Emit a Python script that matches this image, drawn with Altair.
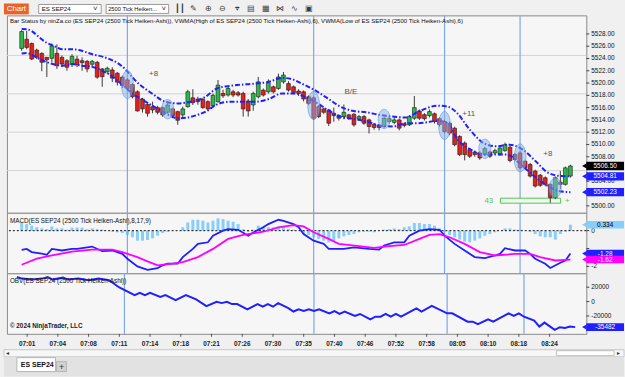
import altair as alt
import pandas as pd

# ------------------------------------------------------------------ data
TIME_BARS = [2, 8, 14, 20, 26, 32, 38, 44, 50, 56, 62, 68, 74, 80, 86, 92, 98, 104]
TIME_LABELS = ["07:01", "07:04", "07:08", "07:11", "07:14", "07:18", "07:21", "07:26", "07:30",
               "07:35", "07:40", "07:46", "07:52", "07:58", "08:05", "08:10", "08:18", "08:24"]
PRICE_TICKS = [5500, 5502, 5504, 5506, 5508, 5510, 5512, 5514, 5516, 5518, 5520, 5522, 5524, 5526, 5528]
# labels hidden behind the value boxes on the right are not drawn
PRICE_LABELS = [5500, 5504, 5508, 5510, 5512, 5514, 5516, 5518, 5520, 5522, 5524, 5526, 5528]
PRICE_GRID = [5505.75, 5512.0, 5518.25, 5524.5]
MACD_TICKS = [-2, -1, 0]
OBV_TICKS = [-40000, -20000, 0, 20000]

OPEN = [5525.64, 5527.14, 5526.45, 5525.37, 5524.83, 5524.19, 5524.03, 5524.83, 5524.19, 5523.64,
        5523.00, 5523.90, 5523.64, 5523.54, 5523.06, 5523.38, 5522.30, 5521.86, 5522.14, 5521.60,
        5520.96, 5520.52, 5519.76, 5518.58, 5517.40, 5516.53, 5516.16, 5516.00, 5516.00, 5515.24,
        5515.79, 5515.35, 5514.82, 5516.16, 5517.60, 5517.40, 5517.34, 5516.97, 5516.30, 5516.97,
        5518.31, 5518.05, 5518.58, 5518.42, 5518.31, 5517.08, 5516.43, 5517.77, 5518.85, 5518.58,
        5519.39, 5519.12, 5520.20, 5519.92, 5519.39, 5518.69, 5518.58, 5517.77, 5517.60, 5516.16,
        5515.79, 5515.62, 5515.08, 5514.70, 5514.54, 5514.82, 5514.92, 5514.17, 5514.54, 5514.00,
        5513.30, 5513.10, 5512.93, 5513.74, 5513.60, 5514.00, 5513.36, 5513.20, 5514.27, 5515.46,
        5514.85, 5514.70, 5515.00, 5514.20, 5513.74, 5513.46, 5512.65, 5511.31, 5510.23, 5509.17,
        5508.78, 5508.62, 5508.35, 5508.78, 5508.62, 5508.45, 5509.00, 5509.54, 5508.35, 5508.62,
        5507.27, 5506.74, 5505.66, 5505.00, 5504.58, 5503.50, 5501.34, 5503.88, 5503.50, 5504.85]
HIGH = [5528.60, 5528.50, 5526.60, 5525.60, 5525.00, 5524.24, 5526.45, 5526.30, 5524.50, 5523.90,
        5524.70, 5524.45, 5524.19, 5523.75, 5523.75, 5523.60, 5522.46, 5522.67, 5522.57, 5521.81,
        5521.20, 5520.80, 5520.00, 5518.80, 5517.60, 5516.70, 5516.97, 5516.30, 5516.20, 5516.70,
        5516.00, 5515.50, 5516.16, 5518.90, 5519.00, 5517.77, 5517.60, 5517.20, 5518.30, 5520.50,
        5518.90, 5519.50, 5518.90, 5518.70, 5518.60, 5517.40, 5518.60, 5521.00, 5519.10, 5520.60,
        5519.60, 5521.54, 5521.80, 5520.30, 5519.60, 5519.00, 5518.80, 5518.00, 5517.80, 5516.40,
        5516.00, 5515.80, 5516.00, 5514.90, 5516.50, 5515.00, 5515.10, 5514.80, 5514.80, 5514.20,
        5513.50, 5513.30, 5514.50, 5514.50, 5514.40, 5514.20, 5513.60, 5514.80, 5517.90, 5515.70,
        5515.10, 5515.70, 5515.20, 5514.40, 5514.00, 5513.70, 5512.90, 5511.50, 5510.50, 5509.40,
        5509.00, 5508.90, 5509.60, 5509.00, 5509.30, 5509.70, 5510.30, 5509.80, 5508.60, 5508.90,
        5507.50, 5507.00, 5505.90, 5505.20, 5504.80, 5503.70, 5504.80, 5505.66, 5506.40, 5506.70]
LOW = [5525.25, 5525.50, 5523.75, 5523.90, 5521.93, 5521.00, 5523.38, 5522.30, 5522.60, 5522.00,
       5522.60, 5522.60, 5522.00, 5521.76, 5522.57, 5520.70, 5519.39, 5521.50, 5520.15, 5519.60,
       5519.20, 5518.90, 5517.50, 5515.35, 5515.20, 5514.54, 5515.08, 5514.90, 5514.50, 5515.00,
       5514.30, 5513.20, 5514.27, 5516.00, 5516.43, 5516.48, 5515.80, 5515.50, 5516.00, 5516.80,
       5517.60, 5517.80, 5517.70, 5517.80, 5514.54, 5514.54, 5515.50, 5517.50, 5517.80, 5518.30,
       5518.30, 5518.90, 5519.90, 5518.60, 5518.20, 5517.90, 5517.00, 5516.40, 5514.00, 5514.30,
       5515.00, 5513.00, 5513.70, 5513.90, 5514.10, 5514.00, 5512.90, 5513.90, 5513.20, 5511.80,
       5512.40, 5512.30, 5512.70, 5513.40, 5513.30, 5512.30, 5512.80, 5513.00, 5514.00, 5514.00,
       5513.90, 5514.40, 5513.40, 5512.90, 5511.80, 5511.50, 5509.70, 5508.10, 5507.40, 5507.80,
       5508.00, 5507.50, 5508.10, 5507.80, 5508.40, 5508.20, 5508.80, 5507.10, 5507.30, 5505.90,
       5505.90, 5504.60, 5503.00, 5503.10, 5503.20, 5500.50, 5501.10, 5502.77, 5503.30, 5504.60]
CLOSE = [5528.39, 5525.80, 5523.91, 5524.19, 5523.38, 5523.80, 5526.06, 5522.83, 5523.10, 5522.57,
         5524.35, 5522.99, 5523.32, 5522.30, 5523.54, 5520.96, 5521.05, 5522.41, 5520.80, 5520.15,
         5519.60, 5519.12, 5517.77, 5515.46, 5515.79, 5515.08, 5515.62, 5515.24, 5514.82, 5516.43,
         5514.70, 5513.94, 5515.79, 5518.58, 5516.80, 5516.97, 5516.00, 5515.79, 5518.00, 5519.66,
         5517.93, 5519.12, 5518.05, 5518.05, 5515.79, 5515.46, 5518.31, 5520.20, 5518.05, 5520.04,
         5518.58, 5521.00, 5521.30, 5518.85, 5518.47, 5518.31, 5517.40, 5516.69, 5514.27, 5514.54,
         5515.24, 5513.46, 5514.70, 5514.27, 5515.24, 5514.27, 5513.20, 5514.54, 5513.46, 5512.93,
         5512.77, 5512.77, 5514.27, 5514.22, 5514.00, 5512.65, 5513.10, 5514.54, 5516.00, 5514.27,
         5514.20, 5515.35, 5513.74, 5513.25, 5512.12, 5511.85, 5509.97, 5508.35, 5508.35, 5508.08,
         5508.35, 5507.81, 5509.33, 5508.08, 5509.00, 5509.42, 5509.97, 5507.39, 5507.55, 5506.20,
         5506.20, 5504.85, 5503.23, 5503.34, 5503.50, 5501.34, 5504.58, 5503.50, 5506.20, 5506.50]

UPPER_BAR = [0, 1, 4.9, 6.8, 8.1, 10.1, 11.4, 13.9, 16.5, 19.8, 23.2, 25.9, 28.5, 31.0, 33.6, 36.2,
             38.8, 41.4, 44.0, 46.5, 49.1, 51.7, 53.7, 55.6, 58.2, 60.8, 63.3, 65.9, 68.5, 71.1,
             73.7, 76.3, 78.8, 82.7, 84.6, 86.6, 88.5, 90.4, 91.7, 94.3, 96.9, 99.5, 102.1, 104.6,
             107.2, 109]
UPPER_VAL = [5528.80, 5528.76, 5526.60, 5525.90, 5525.50, 5525.50, 5525.37, 5524.72, 5524.19, 5522.83,
             5519.92, 5518.30, 5516.97, 5516.69, 5516.97, 5517.61, 5519.12, 5519.55, 5519.76, 5519.92,
             5520.20, 5520.84, 5520.63, 5519.92, 5518.85, 5517.50, 5516.16, 5515.46, 5515.24, 5514.82,
             5514.54, 5514.38, 5515.35, 5516.32, 5516.16, 5515.03, 5512.93, 5511.15, 5510.23, 5509.70,
             5509.97, 5509.17, 5507.27, 5505.38, 5504.85, 5504.81]
LOWER_BAR = [0, 1, 2.3, 4.3, 6.2, 8.1, 10.1, 12.0, 13.9, 15.9, 17.8, 19.8, 22.0, 24.6, 27.1, 29.1,
             31.0, 32.9, 34.9, 36.8, 38.8, 41.4, 44.0, 46.5, 49.1, 51.7, 54.3, 56.2, 58.8, 60.8,
             63.3, 65.9, 68.5, 71.1, 73.7, 76.3, 78.8, 82.7, 84.6, 86.6, 89.2, 91.7, 94.3, 96.3,
             98.8, 101.4, 104.0, 106.6, 108.2, 109]
LOWER_VAL = [5524.83, 5524.88, 5524.45, 5523.64, 5523.10, 5522.83, 5523.10, 5522.83, 5522.67, 5522.02,
             5521.21, 5519.87, 5518.30, 5516.97, 5515.79, 5514.82, 5514.27, 5514.38, 5514.82, 5515.46,
             5516.53, 5516.97, 5516.97, 5516.97, 5517.40, 5518.31, 5518.31, 5517.77, 5516.69, 5515.62,
             5514.54, 5514.17, 5513.74, 5513.09, 5512.93, 5513.46, 5513.46, 5513.85, 5513.46, 5510.78,
             5509.16, 5508.35, 5508.35, 5508.35, 5507.00, 5505.12, 5503.50, 5502.43, 5502.27, 5502.23]

SIGNAL_BARS = [21, 58, 84, 99]
TALL_ELLIPSE_BAR = [21, 58, 84, 99]
TALL_ELLIPSE_PRICE = [5519.75, 5516.35, 5513.09, 5507.81]
ROUND_ELLIPSE_BAR = [29, 72, 92, 106]
ROUND_ELLIPSE_PRICE = [5515.75, 5514.14, 5509.29, 5502.96]

NOTE_TEXT = ["+8", "B/E", "+11", "+8"]
NOTE_BAR = [26.2, 65.4, 88.8, 104.5]
NOTE_PRICE = [5521.54, 5518.47, 5514.92, 5508.52]

ZONE_BAR = [95.1, 107.05]
ZONE_PRICE = [5500.44, 5501.25]
ZONE_COUNT = "43"
ZONE_COUNT_BAR = 92.8
ZONE_PLUS_BAR = 108.4
ZONE_TEXT_PRICE = 5500.8

HIST_VAL = [0.46, 0.37, 0.28, 0.19, 0.13, 0.09, 0.24, 0.13, 0.13, 0.06,
            0.17, 0.17, 0.17, 0.09, 0.13, 0.09, 0.06, 0.00, -0.06, -0.09,
            -0.13, -0.24, -0.37, -0.56, -0.56, -0.52, -0.43, -0.28, -0.13, -0.06,
            0.00, 0.00, 0.19, 0.46, 0.61, 0.61, 0.56, 0.46, 0.56, 0.69,
            0.65, 0.56, 0.50, 0.37, 0.09, -0.06, 0.06, 0.28, 0.24, 0.19,
            0.19, 0.24, 0.24, 0.09, 0.06, 0.00, -0.19, -0.24, -0.37, -0.46,
            -0.56, -0.65, -0.56, -0.43, -0.32, -0.24, -0.19, -0.09, -0.06, -0.06,
            -0.09, 0.00, 0.06, 0.09, 0.13, 0.09, 0.19, 0.24, 0.43, 0.43,
            0.37, 0.37, 0.28, 0.13, -0.06, -0.24, -0.37, -0.50, -0.61, -0.65,
            -0.56, -0.43, -0.28, -0.19, -0.09, 0.00, 0.13, 0.13, 0.06, 0.06,
            0.00, -0.06, -0.19, -0.32, -0.37, -0.37, -0.50, -0.19, -0.06, 0.334]

MACD_BAR = [0, 1, 2, 4, 5, 6, 8, 10, 11, 14, 16, 18, 20, 21, 23, 25, 27, 28, 29, 31, 32, 34, 35, 37,
            38, 40, 41, 43, 45, 46, 48, 49, 51, 52, 54, 55, 56, 58, 60, 61, 64, 66, 69, 71, 72, 74,
            76, 77, 79, 81, 83, 84, 86, 88, 90, 92, 94, 95, 96, 98, 100, 101, 102, 104, 105, 107,
            108, 109]
MACD_VAL = [-1.07, -1.02, -1.20, -1.28, -1.35, -1.02, -1.11, -1.02, -1.02, -0.89, -1.15, -1.11,
            -1.30, -1.57, -2.00, -2.19, -2.10, -1.94, -1.85, -1.85, -1.48, -1.02, -0.74, -0.65,
            -0.28, 0.00, 0.09, 0.05, -0.28, -0.10, 0.19, 0.37, 0.61, 0.55, 0.37, 0.19, -0.19,
            -0.56, -0.74, -1.02, -1.02, -0.93, -1.02, -1.06, -0.83, -0.65, -0.65, -0.28, 0.00,
            0.09, 0.05, -0.28, -0.74, -1.11, -1.48, -1.54, -1.39, -1.30, -0.98, -1.11, -1.11,
            -1.30, -1.57, -1.85, -2.09, -1.80, -1.67, -1.28]
SIGNAL_BAR = [0, 3, 6, 10, 14, 18, 20, 23, 25, 27, 30, 32, 35, 38, 41, 44, 48, 51, 54, 56, 58, 61,
              63, 67, 70, 73, 76, 79, 81, 83, 85, 88, 91, 94, 98, 101, 103, 106, 109]
SIGNAL_VAL = [-1.91, -1.57, -1.39, -1.17, -1.06, -1.06, -1.20, -1.48, -1.72, -1.94, -1.85, -1.76,
              -1.48, -1.02, -0.46, -0.24, -0.06, 0.19, 0.31, 0.24, -0.09, -0.46, -0.74, -0.87,
              -0.96, -0.87, -0.80, -0.46, -0.24, -0.19, -0.37, -0.74, -1.20, -1.39, -1.30, -1.30,
              -1.48, -1.67, -1.62]

OBV_BAR = [0, 1, 3, 5, 6, 7, 9, 10, 12, 14, 16, 18, 20, 23, 24, 25, 26, 28, 29, 31, 33, 35, 37, 39,
           40, 41, 42, 43, 45, 47, 48, 49, 50, 51, 53, 54, 55, 56, 57, 58, 59, 61, 62, 63, 64, 66,
           67, 69, 70, 71, 72, 73, 74, 75, 78, 79, 81, 84, 85, 88, 89, 90, 92, 93, 96, 97, 98, 99,
           101, 102, 103, 105, 106, 107, 108, 109]
OBV_VAL = [34200, 32000, 30600, 32000, 34200, 30600, 33300, 30600, 32000, 29650, 32000, 29650,
           19600, 8960, 12100, 8960, 12100, 6600, 8960, 2070, 8960, 2990, -6200, -300, -2070,
           -300, -3400, -3400, -10800, -3400, -7100, -3400, -7100, -2070, -9000, -13800, -10800,
           -13100, -10800, -13100, -10800, -16300, -13100, -17200, -14000, -20000, -17200, -24600,
           -21000, -21000, -17200, -21000, -17200, -21000, -9400, -14000, -5800, -16300, -16300,
           -27900, -27900, -31400, -24600, -27900, -16300, -20000, -16300, -21000, -26500, -34700,
           -29200, -39300, -35600, -36800, -34700, -35482]

HEADER = ("Bar Status by ninZa.co (ES SEP24 (2500 Tick Heiken-Ashi)), VWMA(High of ES SEP24 "
          "(2500 Tick Heiken-Ashi),6), VWMA(Low of ES SEP24 (2500 Tick Heiken-Ashi),6)")
MACD_TITLE = "MACD(ES SEP24 (2500 Tick Heiken-Ashi),8,17,9)"
OBV_TITLE = "OBV(ES SEP24 (2500 Tick Heiken-Ashi))"
COPYRIGHT = "\u00a9 2024 NinjaTrader, LLC"
INSTRUMENT = "ES SEP24"
BAR_TYPE = "2500 Tick Heiken..."

# ------------------------------------------------------------------ style
FONT = "Liberation Sans"
GREEN = "#2db84a"
RED = "#e3201b"
BAND_BLUE = "#1f1fff"
SIG_BLUE = "#7ba7ef"
MAGENTA = "#ff00ff"
HIST_BLUE = "#87cefa"
PW = 584
X_DOM = [-1.937, 111.17]
XS = alt.Scale(domain=X_DOM, nice=False, zero=False)
GRID_AX = alt.Axis(values=TIME_BARS, grid=True, gridColor="#d3d3d3", gridWidth=1,
                   labels=False, ticks=False, domain=False, title=None)
ONE = pd.DataFrame({"k": [0]})


def xq(field="bar", axis=None):
    return alt.X(field + ":Q", scale=XS, axis=axis)


def yq(field, scale):
    return alt.Y(field + ":Q", scale=scale, axis=None)


def y_ticks(ticks, scale):
    df = pd.DataFrame({"v": ticks})
    return alt.Chart(df).mark_rule(color="#444", strokeWidth=1).encode(
        x=alt.value(584), x2=alt.value(587), y=yq("v", scale))


def y_labels(ticks, scale, expr):
    df = pd.DataFrame({"v": ticks})
    return alt.Chart(df).transform_calculate(lab=expr).mark_text(
        align="left", baseline="middle", font=FONT, fontSize=6.5, color="#111").encode(
        x=alt.value(589), y=yq("v", scale), text="lab:N")


def value_box(value, scale, half, fill, txt_color, expr):
    df = pd.DataFrame({"v": [value]})
    rect = alt.Chart(df).transform_calculate(
        lo="datum.v - %f" % half, hi="datum.v + %f" % half).mark_rect(fill=fill).encode(
        x=alt.value(584), x2=alt.value(622), y=yq("lo", scale), y2="hi:Q")
    tri = alt.Chart(df).mark_point(shape="triangle-left", size=28, filled=True, fill=fill,
                                   opacity=1, strokeWidth=0).encode(
        x=alt.value(582), y=yq("v", scale))
    txt = alt.Chart(df).transform_calculate(lab=expr).mark_text(
        font=FONT, fontSize=6.5, color=txt_color).encode(
        x=alt.value(603), y=yq("v", scale), text="lab:N")
    return [rect, tri, txt]


def panel_text(txt, y, size=6.4):
    return alt.Chart(ONE).mark_text(text=txt, align="left", baseline="middle", font=FONT,
                                    fontSize=size, color="#111").encode(
        x=alt.value(3), y=alt.value(y))


# ------------------------------------------------------------------ price panel
YP = alt.Scale(domain=[5498.87, 5531.02], nice=False, zero=False)
candles = pd.DataFrame({"bar": list(range(len(OPEN))), "open": OPEN, "high": HIGH,
                        "low": LOW, "close": CLOSE})
candles["dir"] = ["up" if c >= o else "down" for o, c in zip(OPEN, CLOSE)]
upper = pd.DataFrame({"bar": UPPER_BAR, "v": UPPER_VAL})
lower = pd.DataFrame({"bar": LOWER_BAR, "v": LOWER_VAL})
sig = pd.DataFrame({"bar": SIGNAL_BARS})
tall = pd.DataFrame({"bar": TALL_ELLIPSE_BAR, "v": TALL_ELLIPSE_PRICE})
rnd = pd.DataFrame({"bar": ROUND_ELLIPSE_BAR, "v": ROUND_ELLIPSE_PRICE})
notes = pd.DataFrame({"bar": NOTE_BAR, "v": NOTE_PRICE, "t": NOTE_TEXT})
zone = pd.DataFrame({"b1": [ZONE_BAR[0]], "b2": [ZONE_BAR[1]], "p1": [ZONE_PRICE[0]],
                     "p2": [ZONE_PRICE[1]]})
zone_txt = pd.DataFrame({"bar": [ZONE_COUNT_BAR, ZONE_PLUS_BAR], "v": [ZONE_TEXT_PRICE] * 2,
                         "t": [ZONE_COUNT, "+"]})
pgrid = pd.DataFrame({"v": PRICE_GRID})

ELL_TALL = "M0,-1 A0.42,1 0 1,1 0,1 A0.42,1 0 1,1 0,-1 Z"
ELL_ROUND = "M0,-1 A0.62,1 0 1,1 0,1 A0.62,1 0 1,1 0,-1 Z"

p_vgrid = alt.Chart(sig).mark_rule(opacity=0).encode(x=xq("bar", GRID_AX))
p_hgrid = alt.Chart(pgrid).mark_rule(color="#d3d3d3", strokeWidth=1).encode(y=yq("v", YP))
p_sig = alt.Chart(sig).mark_rule(color=SIG_BLUE, strokeWidth=1.2).encode(x=xq())
p_wick = alt.Chart(candles).mark_rule(color="#3a3a3a", strokeWidth=1).encode(
    x=xq(), y=yq("low", YP), y2="high:Q")
p_body = alt.Chart(candles).mark_bar(size=3.8, stroke="#1a1a1a", strokeWidth=0.6).encode(
    x=xq(), y=yq("open", YP), y2="close:Q",
    color=alt.Color("dir:N", scale=alt.Scale(domain=["up", "down"], range=[GREEN, RED]),
                    legend=None))
p_up = alt.Chart(upper).mark_line(color=BAND_BLUE, strokeWidth=2, strokeDash=[5, 2, 1.5, 2],
                                  interpolate="monotone").encode(x=xq(), y=yq("v", YP))
p_lo = alt.Chart(lower).mark_line(color=BAND_BLUE, strokeWidth=2, strokeDash=[5, 2, 1.5, 2],
                                  interpolate="monotone").encode(x=xq(), y=yq("v", YP))
p_ell1 = alt.Chart(tall).mark_point(shape=ELL_TALL, size=800, filled=True, fill="#88b2ea",
                                    fillOpacity=0.5, stroke="#5f95e3", strokeWidth=1,
                                    strokeOpacity=0.6).encode(x=xq(), y=yq("v", YP))
p_ell2 = alt.Chart(rnd).mark_point(shape=ELL_ROUND, size=380, filled=True, fill="#88b2ea",
                                   fillOpacity=0.5, stroke="#5f95e3", strokeWidth=1,
                                   strokeOpacity=0.6).encode(x=xq(), y=yq("v", YP))
p_notes = alt.Chart(notes).mark_text(font=FONT, fontSize=8, color="#555").encode(
    x=xq(), y=yq("v", YP), text="t:N")
p_zone = alt.Chart(zone).mark_rect(fill="#eef8ee", stroke="#55c455", strokeWidth=1).encode(
    x=xq("b1"), x2="b2:Q", y=yq("p1", YP), y2="p2:Q")
p_zone_txt = alt.Chart(zone_txt).mark_text(font=FONT, fontSize=8, color="#55c455").encode(
    x=xq(), y=yq("v", YP), text="t:N")
p_header = panel_text(HEADER, 6, 6.1)

price_layers = [p_vgrid, p_hgrid, p_sig, p_zone, p_wick, p_body, p_up, p_lo, p_ell1, p_ell2,
                p_notes, p_zone_txt, p_header, y_ticks(PRICE_TICKS, YP),
                y_labels(PRICE_LABELS, YP, "format(datum.v, '.2f')")]
price_layers += value_box(CLOSE[-1], YP, 0.68, "#000000", "#ffffff", "format(datum.v, '.2f')")
price_layers += value_box(UPPER_VAL[-1], YP, 0.68, BAND_BLUE, "#ffffff", "format(datum.v, '.2f')")
price_layers += value_box(LOWER_VAL[-1], YP, 0.68, BAND_BLUE, "#ffffff", "format(datum.v, '.2f')")
price = alt.layer(*price_layers).properties(width=PW, height=199)

# ------------------------------------------------------------------ MACD panel
YM = alt.Scale(domain=[-2.389, 1.0], nice=False, zero=False)
hist = pd.DataFrame({"bar": list(range(len(HIST_VAL))), "v": HIST_VAL})
macd = pd.DataFrame({"bar": MACD_BAR, "v": MACD_VAL})
sigl = pd.DataFrame({"bar": SIGNAL_BAR, "v": SIGNAL_VAL})

m_vgrid = alt.Chart(sig).mark_rule(opacity=0).encode(x=xq("bar", GRID_AX))
m_sig = alt.Chart(sig).mark_rule(color=SIG_BLUE, strokeWidth=1.2).encode(x=xq())
m_hist = alt.Chart(hist).mark_bar(size=3, color=HIST_BLUE).encode(
    x=xq(), y=yq("v", YM), y2=alt.datum(0))
m_zero = alt.Chart(ONE).transform_calculate(z="0").mark_rule(
    color="#111111", strokeDash=[2, 2], strokeWidth=1).encode(y=yq("z", YM))
m_macd = alt.Chart(macd).mark_line(color=BAND_BLUE, strokeWidth=1.8).encode(x=xq(), y=yq("v", YM))
m_signal = alt.Chart(sigl).mark_line(color=MAGENTA, strokeWidth=1.8).encode(
    x=xq(), y=yq("v", YM))
m_title = panel_text(MACD_TITLE, 8)

macd_layers = [m_vgrid, m_hist, m_zero, m_sig, m_macd, m_signal, m_title,
               y_ticks(MACD_TICKS, YM), y_labels([-2, 0], YM, "datum.v + ''")]
macd_layers += value_box(HIST_VAL[-1], YM, 0.21, HIST_BLUE, "#000000", "format(datum.v, '.3f')")
macd_layers += value_box(MACD_VAL[-1], YM, 0.21, BAND_BLUE, "#ffffff",
                         "replace(format(datum.v, '.2f'), '\u2212', '-')")
macd_layers += value_box(SIGNAL_VAL[-1], YM, 0.21, MAGENTA, "#ffffff",
                         "replace(format(datum.v, '.2f'), '\u2212', '-')")
macd_panel = alt.layer(*macd_layers).properties(width=PW, height=61)

# ------------------------------------------------------------------ OBV panel
YO = alt.Scale(domain=[-44828, 39310], nice=False, zero=False)
obv = pd.DataFrame({"bar": OBV_BAR, "v": OBV_VAL})
tl = pd.DataFrame({"bar": TIME_BARS, "t": TIME_LABELS})

o_vgrid = alt.Chart(sig).mark_rule(opacity=0).encode(x=xq("bar", GRID_AX))
o_sig = alt.Chart(sig).mark_rule(color=SIG_BLUE, strokeWidth=1.2).encode(x=xq())
o_line = alt.Chart(obv).mark_line(color=BAND_BLUE, strokeWidth=2).encode(x=xq(), y=yq("v", YO))
o_title = panel_text(OBV_TITLE, 8)
o_copy = alt.Chart(ONE).mark_text(text=COPYRIGHT, align="left", baseline="middle", font=FONT,
                                  fontSize=6.4, fontWeight="bold", color="#1a1a1a").encode(
    x=alt.value(3), y=alt.value(53))
o_ttick = alt.Chart(tl).mark_rule(color="#555").encode(
    x=xq(), y=alt.value(61), y2=alt.value(64))
o_tlab = alt.Chart(tl).mark_text(font=FONT, fontSize=6.5, fontWeight="bold", color="#222",
                                 baseline="middle").encode(
    x=xq(), y=alt.value(71), text="t:N")

obv_layers = [o_vgrid, o_sig, o_line, o_title, o_copy, o_ttick, o_tlab,
              y_ticks(OBV_TICKS, YO), y_labels([-20000, 0, 20000], YO, "datum.v + ''")]
obv_layers += value_box(OBV_VAL[-1], YO, 5300, BAND_BLUE, "#ffffff", "datum.v + ''")
obv_panel = alt.layer(*obv_layers).properties(width=PW, height=61)


# ------------------------------------------------------------------ chrome
def box(x, x2, y, y2, fill, stroke="transparent"):
    return alt.Chart(ONE).mark_rect(fill=fill, stroke=stroke, strokeWidth=1).encode(
        x=alt.value(x), x2=alt.value(x2), y=alt.value(y), y2=alt.value(y2))


def label(txt, x, y, size=7, color="#111", align="left", weight="normal"):
    return alt.Chart(ONE).mark_text(text=txt, align=align, baseline="middle", font=FONT,
                                    fontSize=size, color=color, fontWeight=weight).encode(
        x=alt.value(x), y=alt.value(y))


ICONS = ["\u2503\u2503", "\u270e", "\u2295", "\u2296", "\u2316", "\u25a4", "\u25a6",
         "\u22c8", "\u223f", "\u25a3"]
tool_layers = [
    box(-3, 22, 1, 12, "#e8622a"),
    label("Chart", 9.5, 6.5, 8, "white", "center"),
    box(32, 95, 2, 11, "#ffffff", "#9a9a9a"),
    label(INSTRUMENT, 35, 6.5, 6.2),
    label("\u02c5", 89, 7, 8, "#333", "center"),
    box(100, 163, 2, 11, "#ffffff", "#9a9a9a"),
    label(BAR_TYPE, 102, 6.5, 5.8),
    label("\u02c5", 158, 7, 8, "#333", "center"),
]
for i, ic in enumerate(ICONS):
    tool_layers.append(label(ic, 174 + i * 14.5, 6.5, 8, "#3a3a3a", "center"))
toolbar = alt.layer(*tool_layers).properties(
    width=PW, height=13, view=alt.ViewBackground(fill="#f0f0f0", stroke="transparent"))

foot_layers = [
    box(-3, 622, 16, 23, "#f7f7f7", "#c8c8c8"),
    box(554, 612, 17, 22, "#ffffff", "#bdbdbd"),
    label("\u25c2", -1, 19.5, 6, "#333"),
    label("\u25b8", 615, 19.5, 6, "#333"),
    box(-3, 622, 23, 43, "#e2e2e2"),
    box(10, 49, 24, 38, "#ffffff", "#b5b5b5"),
    label(INSTRUMENT, 14, 31, 7, "#111", "left", "bold"),
    box(50, 60, 28, 38, "#d2d2d2", "#b5b5b5"),
    label("+", 55, 33, 9, "#333", "center"),
]
footer = alt.layer(*foot_layers).properties(
    width=PW, height=43, view=alt.ViewBackground(fill="transparent", stroke="transparent"))

chart = alt.vconcat(toolbar, price, macd_panel, obv_panel, footer, spacing=0,
                    bounds="flush").properties(
    padding={"left": 3, "right": 0, "top": 0, "bottom": 0}).configure(
    background="#f0f0f0", font=FONT).configure_view(fill="#f6f6f6", stroke="#8a8a8a",
                                                    strokeWidth=1)

chart.save("out.html", embed_options={"renderer": "svg", "actions": False})
